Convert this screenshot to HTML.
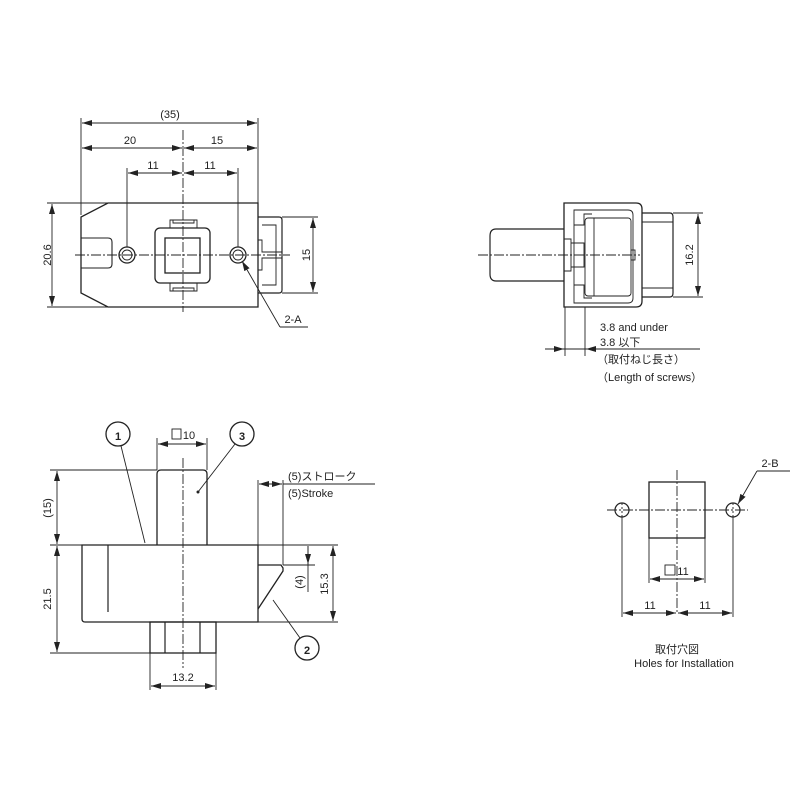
<!DOCTYPE html>
<html><head><meta charset="utf-8"><style>
html,body{margin:0;padding:0;background:#fff;}
svg{display:block;}
text{font-family:"Liberation Sans","Noto Sans CJK JP",sans-serif;font-size:11px;fill:#222;}
</style></head><body>
<svg width="800" height="800" viewBox="0 0 800 800" xmlns="http://www.w3.org/2000/svg">
<defs>
<marker id="a" viewBox="0 0 10 6" refX="10" refY="3" markerWidth="10" markerHeight="6" orient="auto-start-reverse" markerUnits="userSpaceOnUse"><path d="M0,0 L10,3 L0,6 z" fill="#222"/></marker>
</defs>
<g fill="none" stroke="#222" stroke-width="0.9">
<g stroke-dasharray="10,2,2,2">
<line x1="183" y1="130" x2="183" y2="312"/>
<line x1="75" y1="255" x2="290" y2="255"/>
</g>
<path d="M108,203 L258,203 L258,307 L108,307 L81,293 L81,217 Z" stroke-width="1.3"/>
<path d="M81,238 L108,238 Q112,238 112,242 L112,264 Q112,268 108,268 L81,268" stroke-width="1.1"/>
<path d="M258,217 L279,217 Q282,217 282,220 L282,290 Q282,293 279,293 L258,293" stroke-width="1.2"/>
<path d="M262,225 L276,225 L276,285 L262,285" stroke-width="0.9"/>
<path d="M258,240 L262,240 L262,252 L282,252 M258,270 L262,270 L262,258 L282,258" stroke-width="0.9"/>
<circle cx="127" cy="255" r="8" stroke-width="1.3"/><circle cx="127" cy="255" r="5"/>
<circle cx="238" cy="255" r="8" stroke-width="1.3"/><circle cx="238" cy="255" r="5"/>
<rect x="155" y="228" width="55" height="55" rx="5" stroke-width="1.3"/>
<rect x="165" y="238" width="35" height="35" stroke-width="1.3"/>
<path d="M170,228 L170,220 L197,220 L197,228 M173,220 L173,223 L194,223 L194,220" />
<path d="M170,283 L170,291 L197,291 L197,283 M173,291 L173,288 L194,288 L194,291" />
<line x1="81" y1="118" x2="81" y2="215"/><line x1="258" y1="118" x2="258" y2="215"/>
<line x1="82" y1="123" x2="257" y2="123" marker-start="url(#a)" marker-end="url(#a)"/>
<line x1="82" y1="148" x2="182" y2="148" marker-start="url(#a)" marker-end="url(#a)"/>
<line x1="184" y1="148" x2="257" y2="148" marker-start="url(#a)" marker-end="url(#a)"/>
<line x1="127" y1="168" x2="127" y2="247"/><line x1="238" y1="168" x2="238" y2="247"/>
<line x1="128" y1="173" x2="182" y2="173" marker-start="url(#a)" marker-end="url(#a)"/>
<line x1="184" y1="173" x2="237" y2="173" marker-start="url(#a)" marker-end="url(#a)"/>
<line x1="47" y1="203" x2="108" y2="203"/><line x1="47" y1="307" x2="108" y2="307"/>
<line x1="52" y1="204" x2="52" y2="306" marker-start="url(#a)" marker-end="url(#a)"/>
<line x1="282" y1="217" x2="318" y2="217"/><line x1="282" y1="293" x2="318" y2="293"/>
<line x1="313" y1="218" x2="313" y2="292" marker-start="url(#a)" marker-end="url(#a)"/>
<line x1="308" y1="327" x2="280" y2="327"/><line x1="280" y1="327" x2="242" y2="261" marker-end="url(#a)"/>

<line x1="478" y1="255" x2="640" y2="255" stroke-dasharray="10,2,2,2"/>
<path d="M564,229 L496,229 Q490,229 490,236 L490,274 Q490,281 496,281 L564,281" stroke-width="1.2"/>
<path d="M564,203 L636,203 Q642,203 642,209 L642,301 Q642,307 636,307 L564,307 Z" stroke-width="1.3"/>
<path d="M642,213 L670,213 Q673,213 673,217 L673,293 Q673,297 670,297 L642,297" stroke-width="1.2"/>
<path d="M642,222 L673,222 M642,288 L673,288"/>
<path d="M574,210 L628,210 Q633,210 633,215 L633,298 Q633,303 628,303 L574,303 Z"/>
<rect x="585" y="218" width="46" height="78" rx="3"/>
<line x1="594" y1="218" x2="594" y2="296"/>
<path d="M574,225 L584,225 L584,214 L592,214 M574,285 L584,285 L584,298 L592,298"/>
<path d="M564,239 L571,239 L571,271 L564,271 M571,243 L584,243 L584,267 L571,267"/>
<rect x="631" y="250" width="4" height="10"/>
<line x1="565" y1="307" x2="565" y2="356"/><line x1="585" y1="307" x2="585" y2="356"/>
<line x1="545" y1="349" x2="700" y2="349"/>
<line x1="552" y1="349" x2="564" y2="349" marker-end="url(#a)"/>
<line x1="598" y1="349" x2="586" y2="349" marker-end="url(#a)"/>
<line x1="673" y1="213" x2="703" y2="213"/><line x1="673" y1="297" x2="703" y2="297"/>
<line x1="698" y1="214" x2="698" y2="296" marker-start="url(#a)" marker-end="url(#a)"/>

<line x1="183" y1="458" x2="183" y2="668" stroke-dasharray="10,2,2,2"/>
<path d="M157,545 L157,474 Q157,470 161,470 L203,470 Q207,470 207,474 L207,545" stroke-width="1.3"/>
<path d="M82,545 L258,545 L258,622 L85,622 Q82,622 82,619 Z" stroke-width="1.3"/>
<line x1="108" y1="545" x2="108" y2="612" stroke-width="1.2"/>
<rect x="150" y="622" width="66" height="31" stroke-width="1.3"/>
<line x1="165" y1="622" x2="165" y2="653" stroke-width="1.2"/><line x1="200" y1="622" x2="200" y2="653" stroke-width="1.2"/>
<path d="M258,565 L281,565 L283,568 L283,571 L258,609" stroke-width="1.3"/>
<line x1="50" y1="470" x2="157" y2="470"/><line x1="50" y1="545" x2="82" y2="545"/>
<line x1="50" y1="653" x2="150" y2="653"/>
<line x1="57" y1="471" x2="57" y2="544" marker-start="url(#a)" marker-end="url(#a)"/>
<line x1="57" y1="546" x2="57" y2="652" marker-start="url(#a)" marker-end="url(#a)"/>
<line x1="157" y1="438" x2="157" y2="470"/><line x1="207" y1="438" x2="207" y2="470"/>
<line x1="158" y1="444" x2="206" y2="444" marker-start="url(#a)" marker-end="url(#a)"/>
<line x1="150" y1="653" x2="150" y2="690"/><line x1="216" y1="653" x2="216" y2="690"/>
<line x1="151" y1="686" x2="215" y2="686" marker-start="url(#a)" marker-end="url(#a)"/>
<line x1="258" y1="480" x2="258" y2="545"/><line x1="283" y1="480" x2="283" y2="565"/>
<line x1="259" y1="484" x2="282" y2="484" marker-start="url(#a)" marker-end="url(#a)"/>
<line x1="283" y1="484" x2="375" y2="484"/>
<line x1="258" y1="545" x2="338" y2="545"/><line x1="283" y1="565" x2="315" y2="565"/>
<line x1="258" y1="622" x2="338" y2="622"/>
<line x1="308" y1="546" x2="308" y2="564" marker-end="url(#a)"/>
<line x1="308" y1="546" x2="308" y2="592"/>
<line x1="333" y1="546" x2="333" y2="621" marker-start="url(#a)" marker-end="url(#a)"/>
<circle cx="118" cy="434" r="12" stroke-width="1.3"/>
<circle cx="242" cy="434" r="12" stroke-width="1.3"/>
<circle cx="307" cy="648" r="12" stroke-width="1.3"/>
<line x1="121" y1="446" x2="145" y2="543"/>
<line x1="235" y1="444" x2="198" y2="492"/>
<line x1="300" y1="638" x2="273" y2="600"/>

<g stroke-dasharray="10,2,2,2">
<line x1="607" y1="510" x2="748" y2="510"/>
<line x1="677" y1="470" x2="677" y2="612"/>
</g>
<rect x="649" y="482" width="56" height="56" stroke-width="1.3"/>
<circle cx="622" cy="510" r="7" stroke-width="1.2"/>
<circle cx="733" cy="510" r="7" stroke-width="1.2"/>
<line x1="622" y1="503" x2="622" y2="517" stroke-dasharray="2,2"/>
<line x1="733" y1="503" x2="733" y2="517" stroke-dasharray="2,2"/>
<line x1="649" y1="538" x2="649" y2="583"/><line x1="705" y1="538" x2="705" y2="583"/>
<line x1="650" y1="579" x2="704" y2="579" marker-start="url(#a)" marker-end="url(#a)"/>
<line x1="622" y1="517" x2="622" y2="617"/><line x1="733" y1="517" x2="733" y2="617"/>
<line x1="623" y1="613" x2="676" y2="613" marker-start="url(#a)" marker-end="url(#a)"/>
<line x1="678" y1="613" x2="732" y2="613" marker-start="url(#a)" marker-end="url(#a)"/>
<line x1="790" y1="471" x2="757" y2="471"/><line x1="757" y1="471" x2="738" y2="504" marker-end="url(#a)"/>
<rect x="665" y="565" width="10" height="10"/>
<rect x="172" y="429" width="9" height="10"/>
</g>
<circle cx="198" cy="492" r="1.5" fill="#222"/>
<g text-anchor="middle">
<text x="170" y="118">(35)</text>
<text x="130" y="144">20</text>
<text x="217" y="144">15</text>
<text x="153" y="169">11</text>
<text x="210" y="169">11</text>
<text x="293" y="323">2-A</text>
<text transform="translate(47,255) rotate(-90)" x="0" y="4">20.6</text>
<text transform="translate(306,255) rotate(-90)" x="0" y="4">15</text>
<text transform="translate(689,255) rotate(-90)" x="0" y="4">16.2</text>
<text transform="translate(47,508) rotate(-90)" x="0" y="4">(15)</text>
<text transform="translate(47,599) rotate(-90)" x="0" y="4">21.5</text>
<text transform="translate(299,582) rotate(-90)" x="0" y="4">(4)</text>
<text transform="translate(324,584) rotate(-90)" x="0" y="4">15.3</text>
<text x="189" y="439">10</text>
<text x="183" y="681">13.2</text>
<text x="118" y="440" font-size="15" font-weight="bold">1</text>
<text x="242" y="440" font-size="15" font-weight="bold">3</text>
<text x="307" y="654" font-size="15" font-weight="bold">2</text>
<text x="683" y="575">11</text>
<text x="650" y="609">11</text>
<text x="705" y="609">11</text>
<text x="770" y="467">2-B</text>
<text x="677" y="653">取付穴図</text>
<text x="684" y="667">Holes for Installation</text>
</g>
<text x="600" y="331">3.8 and under</text>
<text x="600" y="346">3.8 以下</text>
<text x="597" y="363">（取付ねじ長さ）</text>
<text x="597" y="381">（Length of screws）</text>
<text x="288" y="480">(5)ストローク</text>
<text x="288" y="497">(5)Stroke</text>
</svg>
</body></html>
